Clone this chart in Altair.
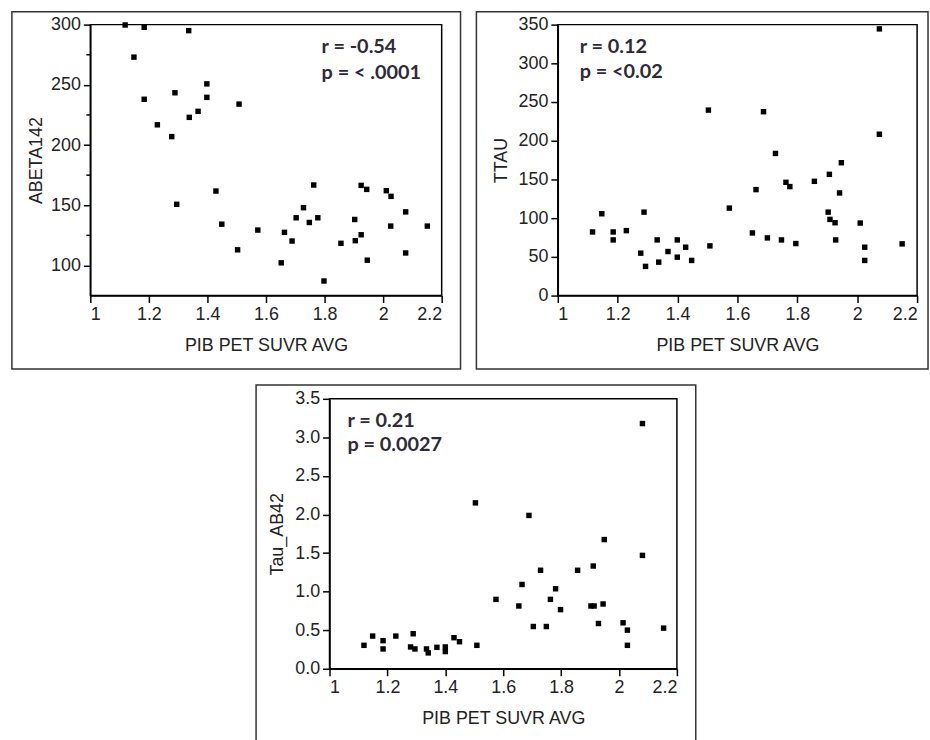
import altair as alt
import pandas as pd

# ---------------- data ----------------
x_label = "PIB PET SUVR AVG"
x_ticks = [1, 1.2, 1.4, 1.6, 1.8, 2, 2.2]

# Panel 1: ABETA142
p1_x = [1.119, 1.184, 1.336, 1.149, 1.184, 1.289, 1.398, 1.398, 1.368, 1.338,
        1.508, 1.229, 1.278, 1.295, 1.429, 1.449, 1.503, 1.572, 1.652, 1.663,
        1.689, 1.703, 1.728, 1.748, 1.763, 1.777, 1.798, 1.856, 1.903, 1.905,
        1.925, 1.925, 1.944, 1.946, 2.011, 2.027, 2.026, 2.077, 2.077, 2.151]
p1_y = [299.7, 297.8, 295.0, 273.0, 238.0, 243.4, 250.8, 239.6, 228.0, 223.0,
        234.0, 216.8, 207.0, 150.8, 161.8, 134.3, 113.0, 129.4, 102.2, 127.5,
        120.3, 139.6, 148.0, 135.7, 166.8, 139.6, 87.1, 118.4, 138.2, 120.6,
        125.5, 166.5, 163.2, 104.4, 162.1, 157.4, 132.7, 144.5, 110.4, 132.7]
p1_title = "ABETA142"
p1_yticks = [100, 150, 200, 250, 300]
p1_minor = [125, 175, 225, 275]
p1_text = ["r = -0.54", "p = < .0001"]

# Panel 2: TTAU
p2_x = [1.116, 1.147, 1.185, 1.185, 1.229, 1.277, 1.288, 1.293, 1.332, 1.337,
        1.368, 1.399, 1.399, 1.427, 1.447, 1.503, 1.508, 1.573, 1.650, 1.662,
        1.687, 1.700, 1.727, 1.747, 1.762, 1.775, 1.795, 1.857, 1.903, 1.907,
        1.909, 1.926, 1.928, 1.941, 1.947, 2.010, 2.025, 2.025, 2.074, 2.074,
        2.150]
p2_y = [82.2, 105.7, 82.2, 71.9, 83.9, 54.8, 107.8, 37.7, 71.9, 43.2,
        56.9, 71.9, 49.6, 62.5, 45.4, 239.6, 64.2, 113.0, 80.9, 136.9,
        237.5, 74.5, 183.6, 71.9, 146.3, 140.8, 67.2, 147.6, 107.8, 156.6,
        98.4, 94.1, 71.9, 132.6, 171.6, 93.7, 62.5, 45.4, 344.5, 208.4,
        66.8]
p2_title = "TTAU"
p2_yticks = [0, 50, 100, 150, 200, 250, 300, 350]
p2_text = ["r = 0.12", "p = <0.02"]

# Panel 3: Tau_AB42
p3_x = [1.119, 1.149, 1.185, 1.185, 1.229, 1.280, 1.289, 1.295, 1.335, 1.341,
        1.371, 1.400, 1.400, 1.430, 1.449, 1.504, 1.509, 1.575, 1.654, 1.665,
        1.689, 1.704, 1.729, 1.749, 1.763, 1.781, 1.798, 1.857, 1.903, 1.911,
        1.914, 1.929, 1.945, 1.949, 2.014, 2.029, 2.029, 2.081, 2.081, 2.154]
p3_y = [0.304, 0.424, 0.364, 0.257, 0.424, 0.283, 0.454, 0.257, 0.257, 0.206,
        0.278, 0.283, 0.223, 0.403, 0.351, 2.151, 0.304, 0.900, 0.814, 1.093,
        1.988, 0.548, 1.277, 0.548, 0.900, 1.037, 0.767, 1.277, 0.814, 1.332,
        0.814, 0.587, 0.840, 1.675, 0.596, 0.501, 0.304, 3.179, 1.470, 0.527]
p3_title = "Tau_AB42"
p3_yticks = [0.0, 0.5, 1.0, 1.5, 2.0, 2.5, 3.0, 3.5]
p3_text = ["r = 0.21", "p = 0.0027"]

LABEL_FONT = "Liberation Sans"
TEXT_COLOR = "#2e2a36"
one = pd.DataFrame({"k": [0]})


def panel(xs, ys, ytitle, ydomain, yticks, yfmt, w, h, frame, txt, txt_pos,
          title_pad, minor=None):
    df = pd.DataFrame({"x": xs, "y": ys})
    yscale = alt.Scale(domain=ydomain, nice=False, zero=False)
    pts = alt.Chart(df).mark_square(size=30, color="black", opacity=1).encode(
        x=alt.X("x:Q",
                scale=alt.Scale(domain=[1, 2.2], nice=False, zero=False),
                axis=alt.Axis(values=x_ticks, format="~g", title=x_label,
                              titlePadding=13)),
        y=alt.Y("y:Q", scale=yscale,
                axis=alt.Axis(values=yticks, format=yfmt, title=ytitle,
                              titlePadding=title_pad)),
    )
    fl, fr, ft, fb = frame
    box = alt.Chart(one).mark_rect(fillOpacity=0, stroke="#333333",
                                   strokeWidth=1.5).encode(
        x=alt.value(fl), x2=alt.value(fr), y=alt.value(ft), y2=alt.value(fb))
    (tx, ty1, ty2) = txt_pos
    t1 = alt.Chart(one).mark_text(align="left", baseline="middle", font="Lato",
                                  fontWeight="bold", fontSize=20,
                                  color=TEXT_COLOR).encode(
        x=alt.value(tx), y=alt.value(ty1), text=alt.value(txt[0]))
    t2 = alt.Chart(one).mark_text(align="left", baseline="middle", font="Lato",
                                  fontWeight="bold", fontSize=20,
                                  color=TEXT_COLOR).encode(
        x=alt.value(tx), y=alt.value(ty2), text=alt.value(txt[1]))
    layers = [box, pts, t1, t2]
    if minor is not None:
        mdf = pd.DataFrame({"y": minor})
        mt = alt.Chart(mdf).mark_rule(color="black", strokeWidth=1.5).encode(
            y=alt.Y("y:Q", scale=yscale), x=alt.value(-4), x2=alt.value(0))
        layers.append(mt)
    return alt.layer(*layers).properties(width=w, height=h)


c1 = panel(p1_x, p1_y, p1_title, [75, 300], p1_yticks, "d", 354, 273,
           (-79, 373, -13, 347), p1_text, (233, 23, 49), 5, minor=p1_minor)
c2 = panel(p2_x, p2_y, p2_title, [0, 350], p2_yticks, "d", 362, 273,
           (-82, 373, -13, 347), p2_text, (22, 23, 48), 8)
c3 = panel(p3_x, p3_y, p3_title, [0, 3.5], p3_yticks, ".1f", 350, 272,
           (-74, 369, -14, 345), p3_text, (18, 22, 47), 8)

SPACER_W = 164
spacer = alt.Chart(one).mark_rect(opacity=0).encode(
    x=alt.value(0), x2=alt.value(SPACER_W), y=alt.value(0), y2=alt.value(1)
).properties(width=SPACER_W, height=1,
             view=alt.ViewBackground(stroke="transparent"))

top = alt.hconcat(c1, c2, spacing=12)
bottom = alt.hconcat(spacer, c3, spacing=0)
chart = alt.vconcat(top, bottom, spacing=12).properties(
    padding={"left": 10, "top": 7, "right": 0, "bottom": 0},
    background="white",
).configure_view(
    stroke="black", strokeWidth=1.5
).configure_axis(
    domainColor="black", domainWidth=1.5,
    tickColor="black", tickWidth=1.5, tickSize=7,
    labelFont=LABEL_FONT, labelFontSize=18, labelColor="#222222",
    labelPadding=3,
    titleFont=LABEL_FONT, titleFontSize=18, titleFontWeight="normal",
    titleColor="#222222", grid=False,
)

chart.save("out.html", embed_options={"renderer": "svg", "actions": False})
